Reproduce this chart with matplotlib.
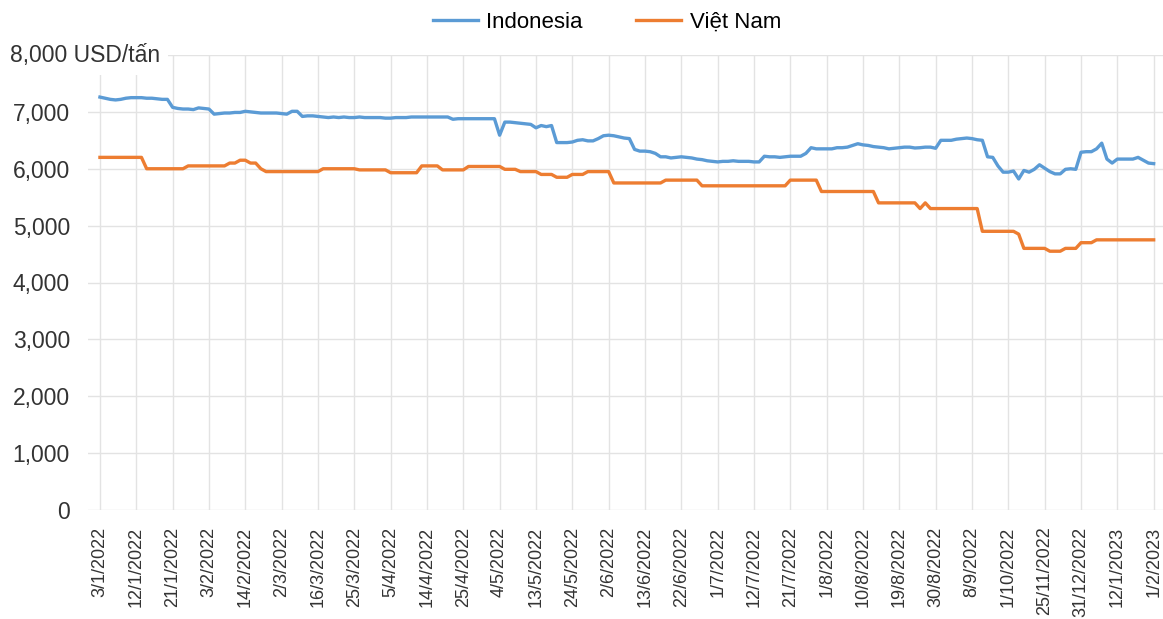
import numpy as np
import matplotlib
matplotlib.use("Agg")
import matplotlib.pyplot as plt

plt.rcParams['font.family'] = ['Liberation Sans', 'DejaVu Sans']

# tick labels, one every 7 trading days
tick_labels = ["3/1/2022", "12/1/2022", "21/1/2022", "3/2/2022", "14/2/2022",
               "2/3/2022", "16/3/2022", "25/3/2022", "5/4/2022", "14/4/2022",
               "25/4/2022", "4/5/2022", "13/5/2022", "24/5/2022", "2/6/2022",
               "13/6/2022", "22/6/2022", "1/7/2022", "12/7/2022", "21/7/2022",
               "1/8/2022", "10/8/2022", "19/8/2022", "30/8/2022", "8/9/2022",
               "1/10/2022", "25/11/2022", "31/12/2022", "12/1/2023", "1/2/2023"]

# USD/tấn (one row = 7 sessions)
indonesia = [
    7260, 7240, 7220, 7210, 7220, 7240, 7250,
    7250, 7250, 7240, 7240, 7230, 7220, 7220,
    7080, 7060, 7050, 7050, 7040, 7070, 7060,
    7050, 6960, 6970, 6980, 6980, 6990, 6990,
    7010, 7000, 6990, 6980, 6980, 6980, 6980,
    6970, 6960, 7010, 7010, 6920, 6930, 6930,
    6920, 6910, 6900, 6910, 6900, 6910, 6900,
    6900, 6910, 6900, 6900, 6900, 6900, 6890,
    6890, 6900, 6900, 6900, 6910, 6910, 6910,
    6910, 6910, 6910, 6910, 6910, 6870, 6880,
    6880, 6880, 6880, 6880, 6880, 6880, 6880,
    6590, 6820, 6820, 6810, 6800, 6790, 6780,
    6720, 6760, 6740, 6760, 6460, 6460, 6460,
    6470, 6500, 6510, 6490, 6490, 6530, 6580,
    6590, 6580, 6560, 6540, 6530, 6340, 6310,
    6310, 6300, 6270, 6210, 6210, 6190, 6200,
    6210, 6200, 6190, 6170, 6160, 6140, 6130,
    6120, 6130, 6130, 6140, 6130, 6130, 6130,
    6120, 6120, 6220, 6210, 6210, 6200, 6210,
    6220, 6220, 6220, 6270, 6370, 6350, 6350,
    6350, 6350, 6370, 6370, 6380, 6410, 6440,
    6420, 6410, 6390, 6380, 6370, 6350, 6360,
    6370, 6380, 6380, 6365, 6370, 6380, 6380,
    6360, 6500, 6500, 6500, 6520, 6530, 6540,
    6530, 6510, 6500, 6210, 6200, 6050, 5940,
    5940, 5960, 5820, 5970, 5940, 5990, 6070,
    6010, 5950, 5910, 5910, 5990, 6000, 5990,
    6290, 6300, 6300, 6350, 6450, 6170, 6100,
    6170, 6170, 6170, 6170, 6200, 6150, 6100,
    6090,
]

viet_nam = [
    6200, 6200, 6200, 6200, 6200, 6200, 6200,
    6200, 6200, 6000, 6000, 6000, 6000, 6000,
    6000, 6000, 6000, 6050, 6050, 6050, 6050,
    6050, 6050, 6050, 6050, 6100, 6100, 6150,
    6150, 6100, 6100, 6000, 5950, 5950, 5950,
    5950, 5950, 5950, 5950, 5950, 5950, 5950,
    5950, 6000, 6000, 6000, 6000, 6000, 6000,
    6000, 5980, 5980, 5980, 5980, 5980, 5980,
    5930, 5930, 5930, 5930, 5930, 5930, 6050,
    6050, 6050, 6050, 5980, 5980, 5980, 5980,
    5980, 6040, 6040, 6040, 6040, 6040, 6040,
    6040, 5990, 5990, 5990, 5950, 5950, 5950,
    5950, 5900, 5900, 5900, 5850, 5850, 5850,
    5900, 5900, 5900, 5950, 5950, 5950, 5950,
    5950, 5750, 5750, 5750, 5750, 5750, 5750,
    5750, 5750, 5750, 5750, 5800, 5800, 5800,
    5800, 5800, 5800, 5800, 5700, 5700, 5700,
    5700, 5700, 5700, 5700, 5700, 5700, 5700,
    5700, 5700, 5700, 5700, 5700, 5700, 5700,
    5800, 5800, 5800, 5800, 5800, 5800, 5600,
    5600, 5600, 5600, 5600, 5600, 5600, 5600,
    5600, 5600, 5600, 5400, 5400, 5400, 5400,
    5400, 5400, 5400, 5400, 5300, 5400, 5300,
    5300, 5300, 5300, 5300, 5300, 5300, 5300,
    5300, 5300, 4900, 4900, 4900, 4900, 4900,
    4900, 4900, 4850, 4600, 4600, 4600, 4600,
    4600, 4550, 4550, 4550, 4600, 4600, 4600,
    4700, 4700, 4700, 4750, 4750, 4750, 4750,
    4750, 4750, 4750, 4750, 4750, 4750, 4750,
    4750,
]

x = np.arange(len(indonesia))
tick_pos = np.arange(0, len(indonesia), 7)

fig = plt.figure(figsize=(11.63, 6.19), dpi=100)
ax = fig.add_axes([88 / 1163, 1 - 510 / 619, 1 - 88 / 1163, (510 - 55) / 619])

ax.plot(x, indonesia, color="#5B9BD5", lw=2.4, label="Indonesia", solid_joinstyle="round")
ax.plot(x, viet_nam, color="#ED7D31", lw=2.4, label="Việt Nam", solid_joinstyle="round")

ax.set_xlim(-2.3, 204.8)
ax.set_ylim(0, 8000)
ax.set_yticks(np.arange(0, 8001, 1000))
ax.set_yticklabels([f"{v:,}" for v in range(0, 8000, 1000)] + [""])
ax.set_xticks(tick_pos)
ax.set_xticklabels(tick_labels, rotation=90, va="top", ha="center")

ax.grid(True, color="#E3E3E3", lw=1)
ax.set_axisbelow(True)
for s in ax.spines.values():
    s.set_visible(False)
ax.tick_params(axis="y", length=0, pad=13, labelsize=16.5, labelcolor="#333333")
ax.tick_params(axis="x", length=0, pad=12, labelsize=13, labelcolor="#333333")

fig.text(10 / 1163, 1 - 55.5 / 619, "8,000 USD/tấn", ha="left", va="center",
         fontsize=16.5, color="#333333",
         bbox=dict(boxstyle="square,pad=0.35", fc="white", ec="none"))

fig.legend(loc="center", bbox_to_anchor=(0.522, 1 - 22 / 619), ncol=2, frameon=False,
           fontsize=16, handlelength=2.0, handletextpad=0.4, columnspacing=2.4)

fig.savefig("out.png", dpi=100)
